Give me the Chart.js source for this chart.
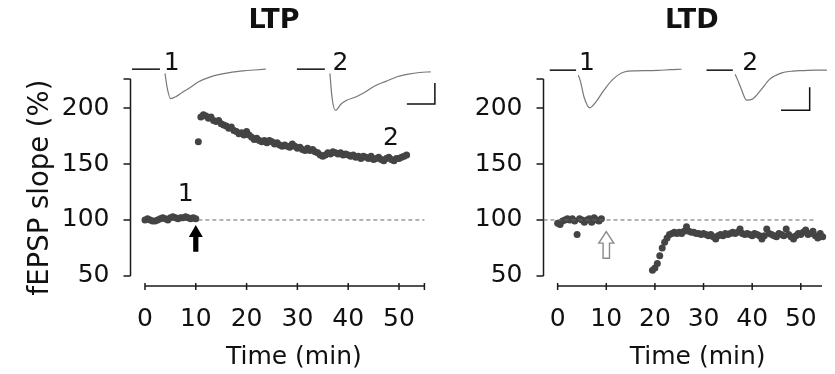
<!DOCTYPE html>
<html><head><meta charset="utf-8">
<script src="https://cdn.jsdelivr.net/npm/chart.js@4.4.1/dist/chart.umd.min.js"></script>
<style>
html,body{margin:0;padding:0;background:#fff;}
#wrap{position:relative;width:835px;height:374px;overflow:hidden;background:#fff;}
#c1{position:absolute;left:0;top:0;}
#c2{position:absolute;left:420px;top:0;}
</style></head><body>
<div id="wrap"><canvas id="c1" width="440" height="374"></canvas><canvas id="c2" width="415" height="374"></canvas></div>
<script>
// ---------- data ----------
const xTickLabels = [0, 10, 20, 30, 40, 50];
const yTickLabels = [50, 100, 150, 200];
const stimulusTime = 10;

const ltpTime = [0,0.5,1,1.5,2,2.5,3,3.5,4,4.5,5,5.5,6,6.5,7,7.5,8,8.5,9,9.5,10,
  10.5,
  11,11.5,12,12.5,13,13.5,14,14.5,15,15.5,16,16.5,17,17.5,18,18.5,19,19.5,20,20.5,
  21,21.5,22,22.5,23,23.5,24,24.5,25,25.5,26,26.5,27,27.5,28,28.5,29,29.5,30,30.5,
  31,31.5,32,32.5,33,33.5,34,34.5,35,35.5,36,36.5,37,37.5,38,38.5,39,39.5,40,40.5,
  41,41.5,42,42.5,43,43.5,44,44.5,45,45.5,46,46.5,47,47.5,48,48.5,49,49.5,50,50.5,
  51,51.5];
const ltpSlope = [100,101,100,99,99,100,101,102,101,100,102,103,102,101,102,102,103,102,101,102,101,
  170,
  192,194,193,191,192,189,188,189,186,185,184,182,183,180,179,177,178,176,179,176,
  174,172,173,171,170,171,169,171,170,168,169,167,166,167,166,165,168,166,164,165,
  163,162,164,162,163,161,160,158,157,158,160,159,161,160,159,160,158,159,158,157,
  158,156,157,155,157,156,155,157,154,155,156,154,153,155,156,154,153,155,155,156,
  157,158];

const ltdTime = [0,0.5,1,1.5,2,2.5,3,3.5,4,4.5,5,5.5,6,6.5,7,7.5,8,8.5,9,
  19.5,20,20.5,21,21.5,22,22.5,23,23.5,24,24.5,25,25.5,26,26.5,27,27.5,28,28.5,29,29.5,
  30,30.5,31,31.5,32,32.5,33,33.5,34,34.5,35,35.5,36,36.5,37,37.5,38,38.5,39,39.5,
  40,40.5,41,41.5,42,42.5,43,43.5,44,44.5,45,45.5,46,46.5,47,47.5,48,48.5,49,49.5,
  50,50.5,51,51.5,52,52.5,53,53.5,54,54.5];
const ltdSlope = [97,96,99,100,101,100,101,99,87,101,100,98,100,101,98,102,100,99,101,
  55,57,61,68,75,80,84,87,88,89,88,89,88,90,94,90,89,89,88,88,87,
  88,87,86,87,85,83,86,87,86,88,87,88,89,88,89,92,88,87,88,87,
  86,88,87,86,83,86,92,88,87,86,85,88,87,86,92,87,85,83,86,88,
  87,89,91,87,88,90,86,84,88,85];

// example fEPSP traces (time in ms, amplitude in mV)
const traceTimeMs = [0,0.4,1,2,3,4.5,6,8,10,12,14,16,18];
const ltpTrace1 = [-0.10,-0.45,-0.70,-0.65,-0.56,-0.44,-0.30,-0.19,-0.12,-0.07,-0.04,-0.02,0];
const ltpTrace2 = [-0.10,-0.70,-0.98,-0.83,-0.74,-0.67,-0.57,-0.40,-0.29,-0.18,-0.12,-0.08,-0.064];
const ltdTrace1 = [-0.11,-0.26,-0.59,-0.82,-0.70,-0.43,-0.20,-0.04,-0.015,-0.01,-0.005,0.01,0.02];
const ltdTrace2 = [-0.09,-0.20,-0.39,-0.65,-0.63,-0.43,-0.20,-0.065,-0.02,-0.01,0,0,0];
const scaleBarMs = 5, scaleBarMv = 0.5;

// ---------- rendering ----------
const FONT = "'DejaVu Sans', sans-serif";
const TXT = '#111';

function traceSets(p) {
  const sets = [];
  p.traces.forEach(tr => {
    const X = ms => tr.x0 + ms * p.minPerMs;
    const Y = mv => p.base + mv * p.pctPerMv;
    sets.push({type:'line', data: traceTimeMs.map((ms,i)=>({x:X(ms), y:Y(tr.amp[i])})),
      borderColor:'#777', borderWidth:1.2, pointRadius:0, cubicInterpolationMode:'monotone', clip:false});
    sets.push({type:'line', data:[{x:X(p.dashMs[0]),y:Y(0)},{x:X(p.dashMs[1]),y:Y(0)}],
      borderColor:'#111', borderWidth:1.5, pointRadius:0, clip:false});
    if (tr.bar) {
      const [cms, cmv] = tr.bar;
      // listed right-to-left so the whole bar is drawn even past the axis end
      sets.push({type:'line', data:[{x:X(cms),y:Y(cmv+scaleBarMv)},{x:X(cms),y:Y(cmv)},{x:X(cms-scaleBarMs),y:Y(cmv)}],
        borderColor:'#111', borderWidth:1.5, pointRadius:0, tension:0, clip:false});
    }
  });
  return sets;
}

const panelPlugin = {
  id: 'panel',
  beforeDatasetsDraw(chart) {
    const o = chart.options.plugins.panel;
    const {ctx, chartArea:a, scales:{x, y}} = chart;
    ctx.save();
    ctx.strokeStyle = '#1a1a1a'; ctx.lineWidth = 1.5;
    ctx.beginPath();
    const yTop = y.getPixelForValue(y.max), yBot = y.getPixelForValue(yTickLabels[0]);
    ctx.moveTo(a.left, yTop); ctx.lineTo(a.left, yBot);
    [...yTickLabels, y.max].forEach(v => { const py = y.getPixelForValue(v); ctx.moveTo(a.left - 7, py); ctx.lineTo(a.left, py); });
    const xa = a.bottom;
    ctx.moveTo(x.getPixelForValue(xTickLabels[0]), xa); ctx.lineTo(x.getPixelForValue(o.xAxisEnd), xa);
    [...xTickLabels, ...o.extraXTicks].forEach(v => { const px = x.getPixelForValue(v); ctx.moveTo(px, xa - 3); ctx.lineTo(px, xa + 4); });
    ctx.stroke();
    ctx.restore();
  },
  afterDatasetsDraw(chart) {
    const o = chart.options.plugins.panel;
    const {ctx, scales:{x, y}} = chart;
    ctx.save();
    // stimulus arrow
    const ax = x.getPixelForValue(stimulusTime);
    const tip = y.getPixelForValue(o.arrow.tip), tail = y.getPixelForValue(o.arrow.tail);
    const hh = o.arrow.head, hw = o.arrow.hw, sw = o.arrow.sw;
    ctx.beginPath();
    ctx.moveTo(ax, tip); ctx.lineTo(ax + hw, tip + hh); ctx.lineTo(ax + sw, tip + hh);
    ctx.lineTo(ax + sw, tail); ctx.lineTo(ax - sw, tail); ctx.lineTo(ax - sw, tip + hh);
    ctx.lineTo(ax - hw, tip + hh); ctx.closePath();
    if (o.arrow.open) { ctx.fillStyle = '#fff'; ctx.fill(); ctx.strokeStyle = '#8a8a8a'; ctx.lineWidth = 1.4; ctx.stroke(); }
    else { ctx.fillStyle = '#000'; ctx.fill(); }
    // texts
    o.texts.forEach(t => {
      ctx.save();
      ctx.fillStyle = TXT;
      ctx.font = (t.bold ? 'bold ' : '') + t.size + 'px ' + FONT;
      ctx.textAlign = 'center'; ctx.textBaseline = 'middle';
      const px = t.t !== undefined ? x.getPixelForValue(t.t) : t.px;
      const py = t.v !== undefined ? y.getPixelForValue(t.v) : t.py;
      ctx.translate(px, py);
      if (t.rot) ctx.rotate(t.rot);
      ctx.fillText(t.text, 0, 0);
      ctx.restore();
    });
    ctx.restore();
  }
};

function makePanel(id, p) {
  const datasets = [
    ...traceSets(p),
    {type:'line', data:[{x:p.refLine[0],y:100},{x:p.refLine[1],y:100}], borderColor:'#666', borderWidth:1,
      borderDash:[4,3], pointRadius:0, clip:false},
    {type:'scatter', data:p.time.map((t,i)=>({x:t, y:p.values[i]})), pointRadius:3.5, pointBackgroundColor:'#444',
      pointBorderWidth:0, showLine:false, clip:false}
  ];
  new Chart(document.getElementById(id), {
    type:'scatter',
    data:{datasets},
    options:{
      responsive:false, animation:false, events:[],
      layout:{padding:{left:0, right:p.padRight, top:79, bottom:0}},
      plugins:{legend:{display:false}, tooltip:{enabled:false}, title:{display:false},
        panel:{xAxisEnd:p.xAxisEnd, extraXTicks:p.extraXTicks, arrow:p.arrow, texts:p.texts}},
      scales:{
        x:{type:'linear', min:p.xMin, max:p.xMax,
          grid:{display:false, drawTicks:false}, border:{display:false},
          afterBuildTicks:s => { s.ticks = xTickLabels.map(v => ({value:v})); },
          afterFit:s => { s.height = 88; },
          ticks:{padding:18, color:TXT, font:{family:FONT, size:25}, maxRotation:0, autoSkip:false}},
        y:{type:'linear', min:41, max:226,
          grid:{display:false, drawTicks:false}, border:{display:false},
          afterBuildTicks:s => { s.ticks = yTickLabels.map(v => ({value:v})); },
          afterFit:s => { s.width = p.yWidth; },
          ticks:{padding:21, color:TXT, font:{family:FONT, size:25}}}
      }
    },
    plugins:[panelPlugin]
  });
}

makePanel('c1', {
  time:ltpTime, values:ltpSlope, xMin:-2.85, xMax:55, xAxisEnd:55, extraXTicks:[55],
  yWidth:130.5, padRight:15.6, refLine:[10.5, 55],
  traces:[{x0:3.94, amp:ltpTrace1}, {x0:36.4, amp:ltpTrace2, bar:[18.75, -0.83]}],
  base:234.8, minPerMs:1.102, pctPerMv:37.5, dashMs:[-5.9, -0.9],
  arrow:{tip:95.5, tail:71.7, head:12, hw:7, sw:2.6, open:false},
  texts:[
    {text:'LTP', t:25.4, py:21, size:27, bold:true},
    {text:'1', t:5.26, py:63, size:25},
    {text:'2', t:38.5, py:63, size:25},
    {text:'1', t:8.0, v:123, size:25},
    {text:'2', t:48.4, v:173, size:25},
    {text:'Time (min)', t:29.3, py:357, size:25},
    {text:'fEPSP slope (%)', px:41, py:187.5, size:27.5, rot:-Math.PI/2}
  ]
});

makePanel('c2', {
  time:ltdTime, values:ltdSlope, xMin:-2.91, xMax:54.36, xAxisEnd:54.36, extraXTicks:[],
  yWidth:123.5, padRight:0, refLine:[-2.91, 53],
  traces:[{x0:4.26, amp:ltdTrace1}, {x0:36.5, amp:ltdTrace2, bar:[13, -0.87]}],
  base:233.9, minPerMs:1.179, pctPerMv:41.1, dashMs:[-5, -0.4],
  arrow:{tip:89.6, tail:65.8, head:11.5, hw:7.5, sw:3.2, open:true},
  texts:[
    {text:'LTD', t:27.6, py:21, size:27, bold:true},
    {text:'1', t:6.03, py:63, size:25},
    {text:'2', t:39.6, py:63, size:25},
    {text:'Time (min)', t:28.8, py:357, size:25}
  ]
});
</script>
</body></html>
